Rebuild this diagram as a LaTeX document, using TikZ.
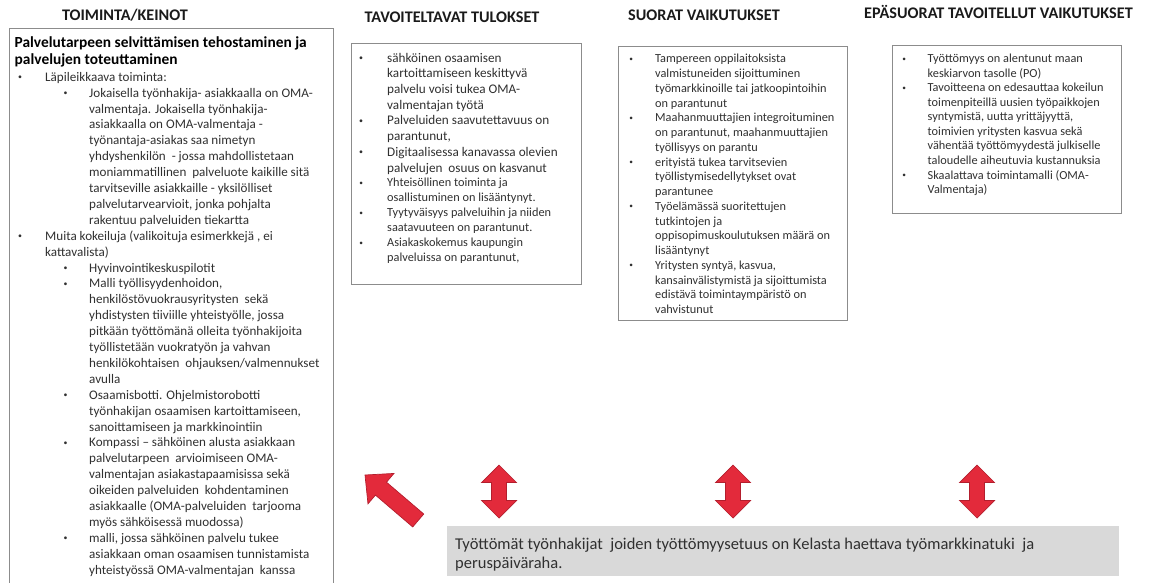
\documentclass[tikz,border=0pt]{standalone}
\usepackage{fontspec}
\setmainfont{Carlito}
\usepackage{array}
\usepackage{graphicx}

\definecolor{ink}{HTML}{303030}
\definecolor{headink}{HTML}{1A1A1A}
\definecolor{framegray}{HTML}{8C8C8C}
\definecolor{notegray}{HTML}{D9D9D9}
\definecolor{blockred}{HTML}{E32A3B}
\definecolor{blockedge}{HTML}{B31E2D}

% small list bullet
\newcommand\dotmark{\hspace*{0.1em}\raisebox{0.12em}{\scalebox{0.6}{\textbullet}}}
% bullet lists laid out line by line
\newlength\bulletgap
\newcommand\bi[1]{\makebox[\bulletgap][l]{\dotmark}#1}
\newcommand\bc[1]{\hspace*{\bulletgap}#1}
% two-level list of the first column
\newcommand\lvlone[1]{\makebox[28.3pt][l]{\dotmark}#1}
\newcommand\lvlonec[1]{\hspace*{28.3pt}#1}
\newcommand\lvltwo[1]{\hspace*{45.5pt}\makebox[26.8pt][l]{\dotmark}#1}
\newcommand\lvltwoc[1]{\hspace*{72.3pt}#1}
% #1 font size, #2 line pitch, #3 bullet-to-text gap, #4 lines
\newcommand\rows[4]{\fontsize{#1}{#2}\selectfont\setlength\bulletgap{#3}%
  \begin{tabular}{@{}l@{}}#4\end{tabular}}

\tikzset{
  heading/.style={font=\fontsize{16.2}{19}\selectfont\bfseries, text=headink, inner sep=0pt, anchor=base},
  panel/.style={draw=framegray, line width=1.1pt, inner sep=0pt, anchor=north west},
  listblock/.style={text=ink, inner sep=0pt, anchor=north west},
  notebox/.style={fill=notegray, inner sep=0pt, anchor=north west},
  blockarrow/.style={fill=blockred, draw=blockedge, line width=0.7pt, line join=miter},
}

% vertical two-headed block arrow centred at (#2,#3)
\newcommand\twoway[3]{%
  \begin{scope}[shift={(#2,#3)}]
    \coordinate (#1) at (0,0);
    \path[blockarrow] (0,-26.5) -- (17.5,-9) -- (7.5,-9) -- (7.5,9) -- (17.5,9)
      -- (0,26.5) -- (-17.5,9) -- (-7.5,9) -- (-7.5,-9) -- (-17.5,-9) -- cycle;
  \end{scope}}

\begin{document}
\begin{tikzpicture}[x=1pt,y=-1pt]
\useasboundingbox (0,0) rectangle (1153,582);
\clip (0,0) rectangle (1153,582);

% column headings
\node[heading] (h1) at (125,20.5) {TOIMINTA/KEINOT};
\node[heading] (h2) at (452,22.5) {TAVOITELTAVAT TULOKSET};
\node[heading] (h3) at (704,20.5) {SUORAT VAIKUTUKSET};
\node[heading] (h4) at (998.5,18.5) {EPÄSUORAT TAVOITELLUT VAIKUTUKSET};

% panels
\node[panel, minimum width=324pt, minimum height=580pt] (actions) at (9,28) {};
\node[panel, minimum width=230pt, minimum height=241pt] (results) at (351,43) {};
\node[panel, minimum width=229pt, minimum height=274pt] (direct) at (618,46) {};
\node[panel, minimum width=229pt, minimum height=168pt] (indirect) at (892,45) {};

% first column: title and two-level list
\node[listblock, text=black] (acttitle) at (14.5,35.4)
  {\rows{15.4}{17}{0pt}{\bfseries Palvelutarpeen selvittämisen tehostaminen ja\\
   \bfseries palvelujen toteuttaminen}};
\node[listblock] (actlist) at (16.7,69.87) {\rows{13.1}{15.9}{0pt}{%
  \lvlone{Läpileikkaava toiminta:}\\
  \lvltwo{Jokaisella työnhakija- asiakkaalla on OMA-}\\
  \lvltwoc{valmentaja. Jokaisella työnhakija-}\\
  \lvltwoc{asiakkaalla on OMA-valmentaja -}\\
  \lvltwoc{työnantaja-asiakas saa nimetyn}\\
  \lvltwoc{yhdyshenkilön\ \ - jossa mahdollistetaan}\\
  \lvltwoc{moniammatillinen\ \ palveluote kaikille sitä}\\
  \lvltwoc{tarvitseville asiakkaille - yksilölliset}\\
  \lvltwoc{palvelutarvearvioit, jonka pohjalta}\\
  \lvltwoc{rakentuu palveluiden tiekartta}\\
  \lvlone{Muita kokeiluja (valikoituja esimerkkejä , ei}\\
  \lvlonec{kattavalista)}\\
  \lvltwo{Hyvinvointikeskuspilotit}\\
  \lvltwo{Malli työllisyydenhoidon,}\\
  \lvltwoc{henkilöstövuokrausyritysten\ \ sekä}\\
  \lvltwoc{yhdistysten tiiviille yhteistyölle, jossa}\\
  \lvltwoc{pitkään työttömänä olleita työnhakijoita}\\
  \lvltwoc{työllistetään vuokratyön ja vahvan}\\
  \lvltwoc{henkilökohtaisen\ \ ohjauksen/valmennukset}\\
  \lvltwoc{avulla}\\
  \lvltwo{Osaamisbotti. Ohjelmistorobotti}\\
  \lvltwoc{työnhakijan osaamisen kartoittamiseen,}\\
  \lvltwoc{sanoittamiseen ja markkinointiin}\\
  \lvltwo{Kompassi – sähköinen alusta asiakkaan}\\
  \lvltwoc{palvelutarpeen\ \ arvioimiseen OMA-}\\
  \lvltwoc{valmentajan asiakastapaamisissa sekä}\\
  \lvltwoc{oikeiden palveluiden\ \ kohdentaminen}\\
  \lvltwoc{asiakkaalle (OMA-palveluiden\ \ tarjooma}\\
  \lvltwoc{myös sähköisessä muodossa)}\\
  \lvltwo{malli, jossa sähköinen palvelu tukee}\\
  \lvltwoc{asiakkaan oman osaamisen tunnistamista}\\
  \lvltwoc{yhteistyössä OMA-valmentajan\ \ kanssa}}};

% second column
\node[listblock] (resultsA) at (357.7,51.0) {\rows{13.2}{15.7}{29.3pt}{%
  \bi{sähköinen osaamisen}\\
  \bc{kartoittamiseen keskittyvä}\\
  \bc{palvelu voisi tukea OMA-}\\
  \bc{valmentajan työtä}\\
  \bi{Palveluiden saavutettavuus on}\\
  \bc{parantunut,}\\
  \bi{Digitaalisessa kanavassa olevien}\\
  \bc{palvelujen\ \ osuus on kasvanut}}};
\node[listblock] (resultsB) at (357.9,176.0) {\rows{12.3}{15}{29.1pt}{%
  \bi{Yhteisöllinen toiminta ja}\\
  \bc{osallistuminen on lisääntynyt.}\\
  \bi{Tyytyväisyys palveluihin ja niiden}\\
  \bc{saatavuuteen on parantunut.}\\
  \bi{Asiakaskokemus kaupungin}\\
  \bc{palveluissa on parantunut,}}};

% third column
\node[listblock] (directlist) at (627.9,52.2) {\rows{12.3}{14.76}{27.1pt}{%
  \bi{Tampereen oppilaitoksista}\\
  \bc{valmistuneiden sijoittuminen}\\
  \bc{työmarkkinoille tai jatkoopintoihin}\\
  \bc{on parantunut}\\
  \bi{Maahanmuuttajien integroituminen}\\
  \bc{on parantunut, maahanmuuttajien}\\
  \bc{työllisyys on parantu}\\
  \bi{erityistä tukea tarvitsevien}\\
  \bc{työllistymisedellytykset ovat}\\
  \bc{parantunee}\\
  \bi{Työelämässä suoritettujen}\\
  \bc{tutkintojen ja}\\
  \bc{oppisopimuskoulutuksen määrä on}\\
  \bc{lisääntynyt}\\
  \bi{Yritysten syntyä, kasvua,}\\
  \bc{kansainvälistymistä ja sijoittumista}\\
  \bc{edistävä toimintaympäristö on}\\
  \bc{vahvistunut}}};

% fourth column
\node[listblock] (indirectlist) at (900.9,52.3) {\rows{12.3}{14.55}{26.6pt}{%
  \bi{Työttömyys on alentunut maan}\\
  \bc{keskiarvon tasolle (PO)}\\
  \bi{Tavoitteena on edesauttaa kokeilun}\\
  \bc{toimenpiteillä uusien työpaikkojen}\\
  \bc{syntymistä, uutta yrittäjyyttä,}\\
  \bc{toimivien yritysten kasvua sekä}\\
  \bc{vähentää työttömyydestä julkiselle}\\
  \bc{taloudelle aiheutuvia kustannuksia}\\
  \bi{Skaalattava toimintamalli (OMA-}\\
  \bc{Valmentaja)}}};

% target group
\node[notebox, minimum width=672pt, minimum height=50pt] (target) at (447,526) {};
\node[listblock] (targettext) at (455,535.6) {\rows{16.5}{19}{0pt}{%
  Työttömät työnhakijat\ \ joiden työttömyysetuus on Kelasta haettava työmarkkinatuki\ \ ja\\
  peruspäiväraha.}};

% block arrows between the target group and the columns
\twoway{arrowresults}{499}{491.5}
\twoway{arrowdirect}{733}{491.5}
\twoway{arrowindirect}{977}{491.5}
\begin{scope}[shift={(365,475)}, rotate=-40.5]
  \coordinate (arrowactions) at (0,0);
  \path[blockarrow] (0,0) -- (21,-20) -- (21,-8.5) -- (70,-8.5) -- (70,8.5)
    -- (21,8.5) -- (21,20) -- cycle;
\end{scope}
\end{tikzpicture}
\end{document}
